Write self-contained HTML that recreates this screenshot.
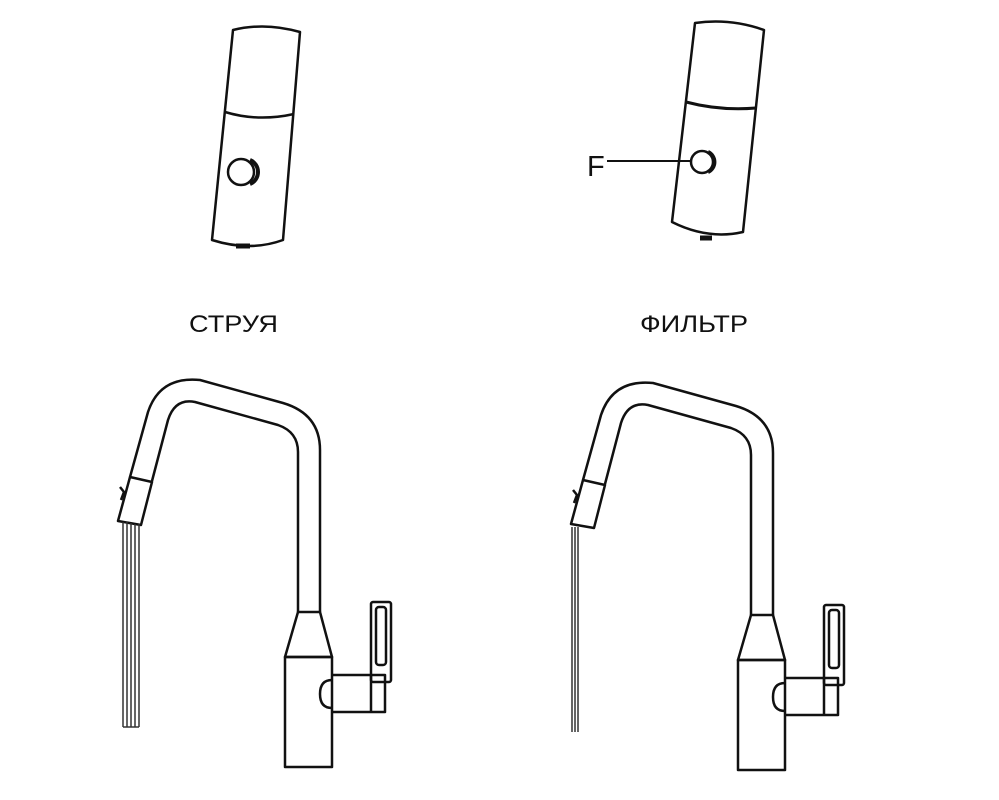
<!DOCTYPE html>
<html><head><style>body{margin:0;background:#fff}svg{display:block}</style></head><body>
<svg width="999" height="800" viewBox="0 0 999 800" xmlns="http://www.w3.org/2000/svg">
<g fill="none" stroke="#111" stroke-width="2.5" stroke-linejoin="round">
<path d="M233,30 Q265,22 300,32 L283,240 Q250,252 212,240 Z"/>
<path d="M225,112 Q258,122 294,114"/>
<circle cx="241" cy="172" r="13"/>
<path d="M250,160 a13,13 0 0 1 0,24" stroke-width="4"/>
<path d="M236,246 L250,246" stroke-width="5"/>
<path d="M695,23 Q730,18 764,30 L743,232 Q708,240 672,222 Z"/>
<path d="M686,102 Q720,111 756,108" stroke-width="3"/>
<circle cx="702" cy="162" r="11"/>
<path d="M708,152 a11,11 0 0 1 0,20" stroke-width="4"/>
<path d="M700,238 L712,238" stroke-width="5"/>
<path d="M607,161 L692,161" stroke-width="2"/>
</g>
<g font-family="Liberation Sans, sans-serif" fill="#111">
<text x="587" y="176" font-size="29">F</text>
<text x="189" y="332" font-size="24" textLength="89" lengthAdjust="spacingAndGlyphs">СТРУЯ</text>
<text x="640" y="332" font-size="24" textLength="108" lengthAdjust="spacingAndGlyphs">ФИЛЬТР</text>
</g>
<defs>
<g id="fx" fill="none" stroke="#111" stroke-width="2.5" stroke-linejoin="round">
<path d="M130,477 L148,412 Q160,376 200,380 L283,403 Q320,414 320,450 L320,612"/>
<path d="M152,481 L168,420 Q175,398 195,402 L278,425 Q298,432 298,452 L298,612"/>
<path d="M130,477 L152,482 L141,525 L118,521 Z"/>
<path d="M120,487 L124,492 L121,500"/>
<path d="M298,612 L320,612 L332,657 L285,657 Z"/>
<rect x="285" y="657" width="47" height="110"/>
<path d="M332,675 L385,675 L385,712 L332,712"/>
<path d="M332,680 Q320,680 320,694 Q320,708 332,708"/>
<rect x="371" y="602" width="20" height="80" rx="2"/>
<rect x="376" y="607" width="10" height="58" rx="3"/>
<path d="M371,675 L371,712"/>
</g>
</defs>
<use href="#fx"/>
<use href="#fx" transform="translate(453,3)"/>
<g stroke="#333" stroke-width="1.5">
<line x1="123" y1="522" x2="123" y2="727"/><line x1="127" y1="522" x2="127" y2="727"/>
<line x1="131" y1="523" x2="131" y2="727"/><line x1="135" y1="524" x2="135" y2="727"/>
<line x1="139" y1="524" x2="139" y2="727"/><line x1="123" y1="727" x2="139" y2="727"/>
<line x1="572" y1="527" x2="572" y2="732"/><line x1="575" y1="527" x2="575" y2="732"/>
<line x1="578" y1="527" x2="578" y2="732"/>
</g>
</svg>
</body></html>
